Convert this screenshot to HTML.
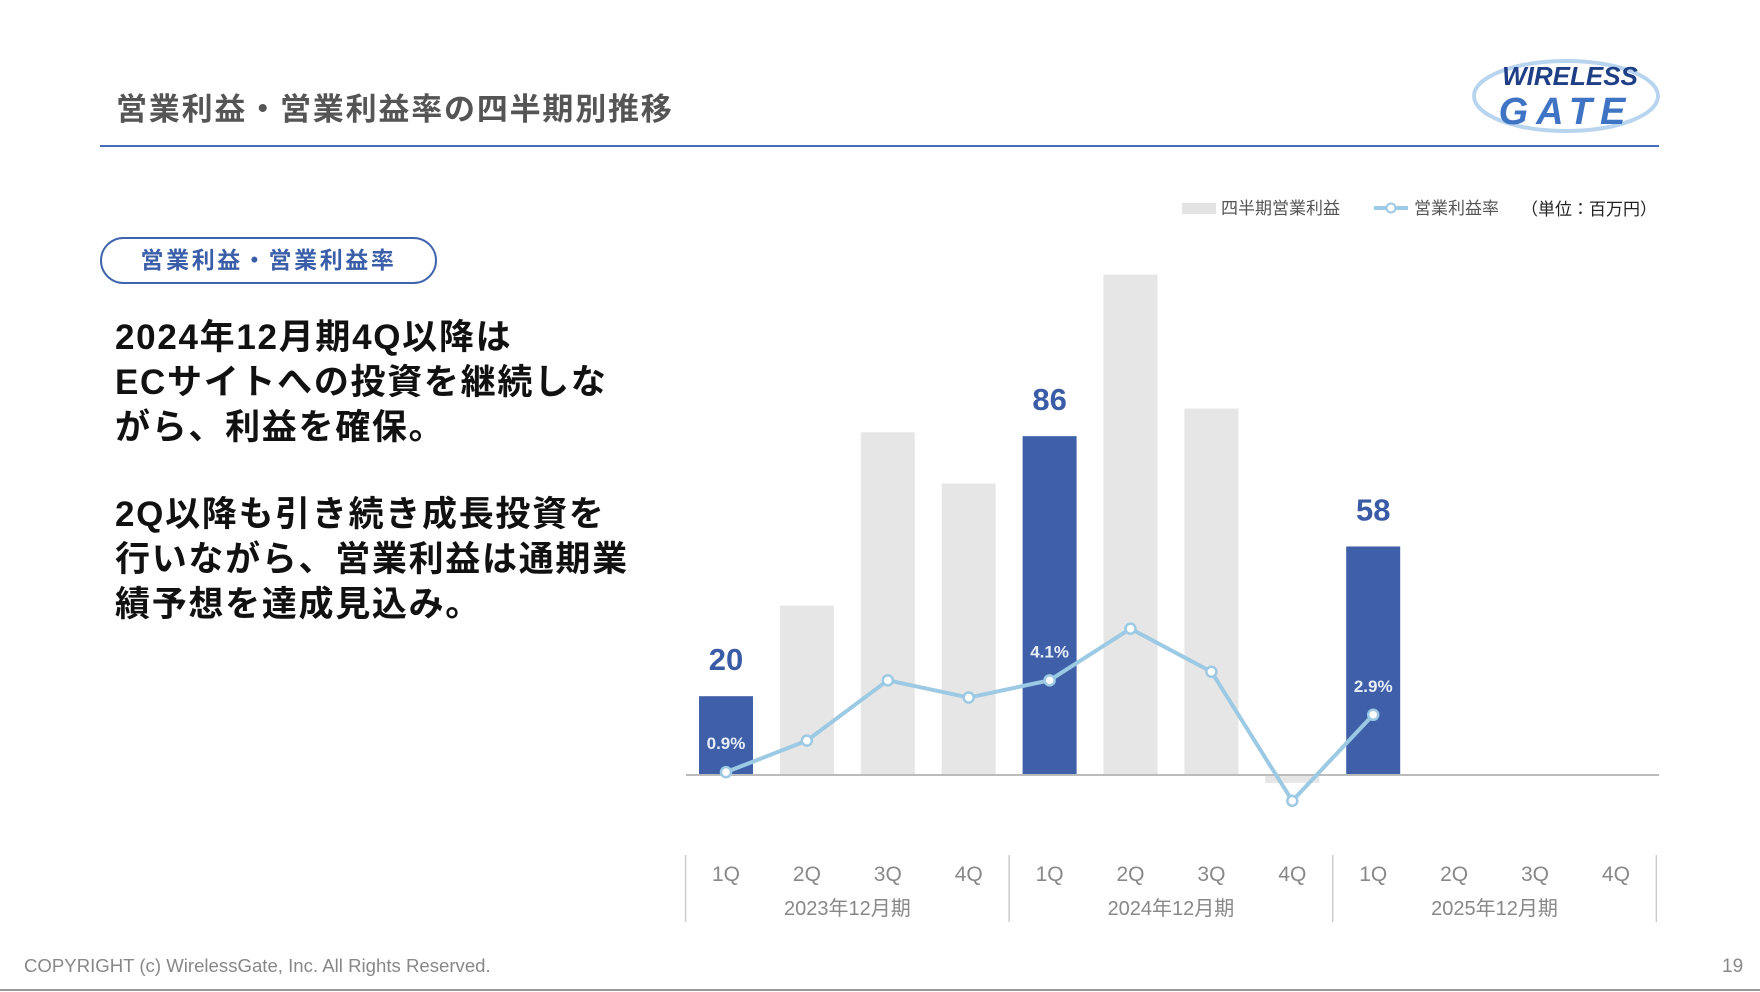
<!DOCTYPE html>
<html><head><meta charset="utf-8"><style>
html,body{margin:0;padding:0;background:#fff}
body{width:1760px;height:992px;overflow:hidden;position:relative;font-family:"Liberation Sans","Noto Sans CJK JP",sans-serif}
.abs{position:absolute;white-space:nowrap}
</style></head><body>
<div class="abs" style="left:116px;top:84px;font-size:31px;font-weight:bold;color:#555;letter-spacing:1.8px">営業利益・営業利益率の四半期別推移</div>
<div class="abs" style="left:100px;top:145px;width:1559px;height:2px;background:#4a6cb8"></div>
<svg class="abs" style="left:1470px;top:56px" width="192" height="80" viewBox="0 0 192 80">
<ellipse cx="96" cy="40" rx="92" ry="35" fill="none" stroke="#b8d4ef" stroke-width="4"/>
<text x="100" y="29" text-anchor="middle" font-family="Liberation Sans" font-weight="bold" font-style="italic" font-size="26" fill="#1e3f85">WIRELESS</text>
<text x="96" y="68" text-anchor="middle" font-family="Liberation Sans" font-weight="bold" font-style="italic" font-size="38" letter-spacing="8" fill="#3f74c4">GATE</text>
</svg>
<div class="abs" style="left:100px;top:237px;width:333px;height:43px;border:2px solid #3f63ad;border-radius:24px;text-align:center;line-height:43px;font-size:23px;font-weight:bold;color:#3a5ea8;letter-spacing:2.6px">営業利益・営業利益率</div>
<div class="abs" style="left:115px;top:315px;font-size:35px;font-weight:bold;line-height:45px;color:#111;letter-spacing:1.7px">2024年12月期4Q以降は<br>ECサイトへの投資を継続しな<br>がら、利益を確保。</div>
<div class="abs" style="left:115px;top:492px;font-size:35px;font-weight:bold;line-height:45px;color:#111;letter-spacing:1.7px">2Q以降も引き続き成長投資を<br>行いながら、営業利益は通期業<br>績予想を達成見込み。</div>
<div class="abs" style="left:24px;top:955px;font-size:18.6px;color:#888">COPYRIGHT (c) WirelessGate, Inc. All Rights Reserved.</div>
<div class="abs" style="left:1722px;top:956px;font-size:19px;color:#888">19</div>
<div class="abs" style="left:0;top:989px;width:1760px;height:2px;background:#999"></div>

<svg id="chart" class="abs" style="left:0;top:0" width="1760" height="992"></svg>
<script>
const quarters=['1Q','2Q','3Q','4Q','1Q','2Q','3Q','4Q','1Q','2Q','3Q','4Q'];
const years=['2023年12月期','2024年12月期','2025年12月期'];
const profit=[20,43,87,74,86,127,93,-2,58,null,null,null];
const highlight=[true,false,false,false,true,false,false,false,true,false,false,false];
const margin=[0.9,2.0,4.1,3.5,4.1,5.9,4.4,-0.1,2.9,null,null,null];
const marginLabels=['0.9%',null,null,null,'4.1%',null,null,null,'2.9%',null,null,null];
const NS='http://www.w3.org/2000/svg';
const svg=document.getElementById('chart');
const x0=726,step=80.9,barW=54,base=775,ppu=3.94,mZero=798,ppp=28.7;
const xs=i=>x0+i*step;
const yb=v=>base-v*ppu;
const ym=v=>mZero-v*ppp;
function mk(t,a){const e=document.createElementNS(NS,t);for(const k in a)e.setAttribute(k,a[k]);svg.appendChild(e);return e;}
profit.forEach((v,i)=>{if(v==null)return;
 const y=Math.min(yb(v),base),h=Math.abs(yb(v)-base);
 const r=mk('rect',{x:xs(i)-barW/2,y:y,width:barW,height:h,fill:highlight[i]?'#3f60a8':'#e6e6e6'});
 
 
 if(highlight[i]){const t=mk('text',{x:xs(i),y:yb(v)-26,'text-anchor':'middle','font-size':31,'font-weight':'bold',fill:'#3a5ba6'});t.textContent=v;
 
 }
});
const ax=mk('line',{x1:686,x2:1659,y1:base,y2:base,stroke:'#bbb','stroke-width':2});


let pts=[];margin.forEach((v,i)=>{if(v!=null)pts.push(xs(i)+','+ym(v));});
const pl=mk('polyline',{points:pts.join(' '),fill:'none',stroke:'#9cc9e3','stroke-width':4,'stroke-linejoin':'round'});


margin.forEach((v,i)=>{if(v==null)return;
 const c=mk('circle',{cx:xs(i),cy:ym(v),r:5,fill:'#fff',stroke:'#9cc9e3','stroke-width':2.5});
 
 
 if(marginLabels[i]){const t=mk('text',{x:xs(i),y:ym(v)-23,'text-anchor':'middle','font-size':17,'font-weight':'bold',fill:'#e8eef8'});t.textContent=marginLabels[i];
 
 }
});
quarters.forEach((q,i)=>{const t=mk('text',{x:xs(i),y:881,'text-anchor':'middle','font-size':21,fill:'#888'});t.textContent=q;
 
 });
years.forEach((y,j)=>{const t=mk('text',{x:xs(j*4)+1.5*step,y:915,'text-anchor':'middle','font-size':20,fill:'#888'});t.textContent=y;
 
 });
for(let j=0;j<=3;j++){const x=xs(j*4)-step/2;const l=mk('line',{x1:x,x2:x,y1:855,y2:922,stroke:'#ccc','stroke-width':1.5});
 
 }
const g1=mk('rect',{x:1182,y:203,width:34,height:11,fill:'#e3e3e3'});


const t1=mk('text',{x:1221,y:214,'font-size':17,fill:'#555'});t1.textContent='四半期営業利益';


const l2=mk('line',{x1:1374,x2:1408,y1:208,y2:208,stroke:'#9cc9e3','stroke-width':4});


mk('circle',{cx:1391,cy:208,r:4.5,fill:'#fff',stroke:'#9cc9e3','stroke-width':2});
const t2=mk('text',{x:1414,y:214,'font-size':17,fill:'#555'});t2.textContent='営業利益率';


const t3=mk('text',{x:1521,y:215,'font-size':17,fill:'#222'});t3.textContent='（単位：百万円）';


</script>
</body></html>
